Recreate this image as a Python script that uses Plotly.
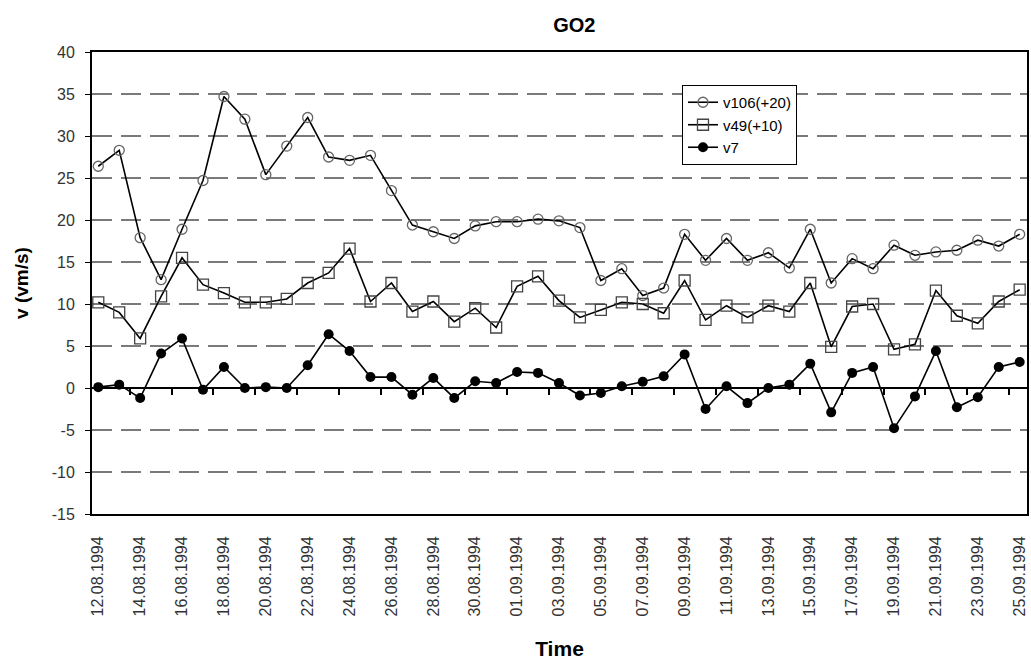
import plotly.graph_objects as go

dates = ["12.08.1994","13.08.1994","14.08.1994","15.08.1994","16.08.1994","17.08.1994","18.08.1994",
         "19.08.1994","20.08.1994","21.08.1994","22.08.1994","23.08.1994","24.08.1994","25.08.1994",
         "26.08.1994","27.08.1994","28.08.1994","29.08.1994","30.08.1994","31.08.1994","01.09.1994",
         "02.09.1994","03.09.1994","04.09.1994","05.09.1994","06.09.1994","07.09.1994","08.09.1994",
         "09.09.1994","10.09.1994","11.09.1994","12.09.1994","13.09.1994","14.09.1994","15.09.1994",
         "16.09.1994","17.09.1994","18.09.1994","19.09.1994","20.09.1994","21.09.1994","22.09.1994",
         "23.09.1994","24.09.1994","25.09.1994"]

v106 = [26.4, 28.3, 17.9, 12.9, 18.9, 24.7, 34.7, 32.0, 25.4, 28.8, 32.2, 27.5, 27.1, 27.7, 23.5,
        19.4, 18.6, 17.8, 19.3, 19.8, 19.8, 20.1, 19.9, 19.1, 12.8, 14.2, 11.0, 11.9, 18.3, 15.2,
        17.8, 15.2, 16.1, 14.3, 18.9, 12.5, 15.4, 14.2, 17.0, 15.8, 16.2, 16.4, 17.6, 16.9, 18.3]

v49 = [10.2, 9.0, 5.9, 10.9, 15.5, 12.3, 11.3, 10.2, 10.2, 10.6, 12.5, 13.7, 16.6, 10.3, 12.5,
       9.1, 10.3, 7.9, 9.5, 7.2, 12.1, 13.3, 10.4, 8.4, 9.3, 10.2, 10.0, 8.9, 12.8, 8.1,
       9.8, 8.4, 9.8, 9.1, 12.5, 4.9, 9.7, 10.0, 4.6, 5.2, 11.6, 8.6, 7.7, 10.3, 11.7]

v7 = [0.1, 0.4, -1.2, 4.1, 5.9, -0.2, 2.5, 0.0, 0.1, 0.0, 2.7, 6.4, 4.4, 1.3, 1.3,
      -0.8, 1.2, -1.2, 0.8, 0.6, 1.9, 1.8, 0.6, -0.9, -0.6, 0.2, 0.75, 1.4, 4.0, -2.5,
      0.2, -1.8, 0.0, 0.4, 2.9, -2.9, 1.8, 2.5, -4.8, -1.0, 4.4, -2.3, -1.1, 2.5, 3.1]

series_names = ["v106(+20)", "v49(+10)", "v7"]
y_ticks = [-15, -10, -5, 0, 5, 10, 15, 20, 25, 30, 35, 40]
y_ticktext = ["-15", "-10", "-5", "0", "5", "10", "15", "20", "25", "30", "35", "40"]

fig = go.Figure()
fig.add_trace(go.Scatter(x=dates, y=v106, name=series_names[0], mode="lines+markers",
                         line=dict(color="black", width=1.6),
                         marker=dict(symbol="circle-open", size=10, color="#666666",
                                     line=dict(width=1.3))))
fig.add_trace(go.Scatter(x=dates, y=v49, name=series_names[1], mode="lines+markers",
                         line=dict(color="black", width=1.6),
                         marker=dict(symbol="square-open", size=11, color="#444444",
                                     line=dict(width=1.3))))
fig.add_trace(go.Scatter(x=dates, y=v7, name=series_names[2], mode="lines+markers",
                         line=dict(color="black", width=1.6),
                         marker=dict(symbol="circle", size=10, color="black")))

n = len(dates)
fig.update_layout(
    width=1031, height=670,
    margin=dict(l=92, r=2, t=52, b=156),
    paper_bgcolor="white", plot_bgcolor="white",
    font=dict(family="Arial, Liberation Sans, sans-serif", color="black"),
    title=dict(text="<b>GO2</b>", x=0.557, xanchor="center", y=0.963, yanchor="middle",
               font=dict(size=20, color="black")),
    xaxis=dict(type="category", categoryorder="array", categoryarray=dates,
               range=[-0.3, n - 1 + 0.35],
               tickvals=dates[::2], ticktext=dates[::2], tickangle=-90,
               tickfont=dict(size=16, color="#333333"), ticklabelstandoff=14,
               showgrid=False, zeroline=False,
               showline=True, linecolor="black", linewidth=2, mirror=True,
               ticks="",
               title=dict(text="<b>Time</b>", font=dict(size=21), standoff=26)),
    yaxis=dict(range=[-15, 40], tickvals=y_ticks, ticktext=y_ticktext,
               tickfont=dict(size=16, color="#333333"), ticklabelstandoff=7,
               showgrid=True, gridcolor="#7a7a7a", gridwidth=2, griddash="20px,9px",
               zeroline=True, zerolinecolor="black", zerolinewidth=2,
               showline=True, linecolor="black", linewidth=2, mirror=True,
               ticks="outside", ticklen=5, tickcolor="black",
               title=dict(text="<b>v (vm/s)</b>", font=dict(size=19), standoff=18)),
    xaxis2=dict(overlaying="x", anchor="free", position=15 / 55, side="bottom",
                type="linear", range=[-0.3, n - 1 + 0.35],
                tickvals=[i + 0.5 for i in range(1, n - 1, 2)],
                ticks="outside", ticklen=6, tickwidth=1.5, tickcolor="black",
                showticklabels=False, showgrid=False, zeroline=False, showline=False),
    legend=dict(x=0.631, y=0.9286, xanchor="left", yanchor="top",
                bgcolor="white", bordercolor="black", borderwidth=1,
                font=dict(size=15, color="black"), tracegroupgap=0,
                itemwidth=30),
    showlegend=True,
)
fig.add_trace(go.Scatter(x=[None], y=[None], xaxis="x2", showlegend=False, hoverinfo="skip"))

fig.write_html("out.html")
